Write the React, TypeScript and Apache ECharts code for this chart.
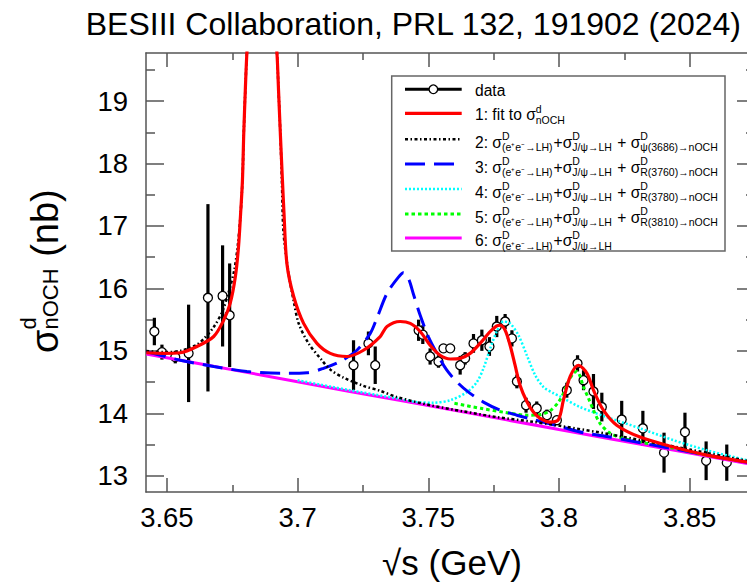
import React, { useEffect, useRef } from "react";
import * as echarts from "echarts";

// ---------- axis ranges & ticks ----------
const X_MIN = 3.642;
const X_MAX = 3.875;
const Y_MIN = 12.74;
const Y_MAX = 19.77;
const xMajorTicks = [3.65, 3.7, 3.75, 3.8, 3.85];
const xMinorTicks = [3.675, 3.725, 3.775, 3.825];
const yMajorTicks = [13, 14, 15, 16, 17, 18, 19];
const yMinorTicks = [13.5, 14.5, 15.5, 16.5, 17.5, 18.5, 19.5];

// ---------- data points ----------
const dataX = [3.6452, 3.6481, 3.6532, 3.6583, 3.6657, 3.6713, 3.674, 3.7214, 3.7271, 3.7297, 3.7463, 3.7479, 3.7507, 3.7539, 3.7558, 3.7584, 3.7622, 3.7641, 3.7673, 3.7705, 3.7734, 3.7762, 3.7794, 3.782, 3.7839, 3.7874, 3.7915, 3.7954, 3.7992, 3.803, 3.8071, 3.8094, 3.8132, 3.8164, 3.824, 3.8321, 3.8402, 3.8482, 3.8563, 3.8642];
const dataY = [15.31, 14.98, 14.9, 14.96, 15.85, 15.88, 15.57, 14.77, 15.12, 14.77, 15.33, 15.26, 14.91, 14.83, 15.04, 15.04, 14.77, 14.88, 15.12, 15.17, 15.07, 15.39, 15.47, 15.2, 14.51, 14.13, 14.08, 13.97, 13.89, 14.37, 14.8, 14.53, 14.35, 14.1, 13.9, 13.76, 13.37, 13.7, 13.24, 13.21];
const dataErr = [0.22, 0.12, 0.1, 0.78, 1.5, 0.81, 0.83, 0.4, 0.19, 0.3, 0.17, 0.15, 0.13, 0.1, 0.06, 0.06, 0.15, 0.1, 0.15, 0.17, 0.15, 0.17, 0.12, 0.13, 0.11, 0.12, 0.11, 0.09, 0.06, 0.12, 0.13, 0.16, 0.28, 0.23, 0.3, 0.28, 0.32, 0.31, 0.31, 0.29];

// ---------- curves ----------
const curveFit: [number, number][] = [[3.6421, 14.97], [3.6487, 14.96], [3.6551, 14.97], [3.6615, 15.07], [3.6679, 15.23], [3.6717, 15.49], [3.6742, 15.76], [3.6762, 16.19], [3.6774, 16.67], [3.6782, 17.2], [3.6789, 17.73], [3.6794, 18.48], [3.68, 19.18], [3.6806, 19.77], [3.686, 23.5], [3.6921, 19.77], [3.6927, 19.18], [3.6934, 18.48], [3.6942, 17.73], [3.6948, 17.2], [3.6959, 16.4], [3.6985, 15.87], [3.7023, 15.44], [3.7074, 15.12], [3.7125, 14.96], [3.7189, 14.91], [3.7252, 15.01], [3.7316, 15.23], [3.7342, 15.39], [3.7392, 15.47], [3.7431, 15.44], [3.7469, 15.31], [3.7507, 15.09], [3.7545, 14.93], [3.7584, 14.87], [3.7622, 14.88], [3.766, 14.96], [3.7698, 15.12], [3.7737, 15.31], [3.7762, 15.4], [3.7775, 15.41], [3.7794, 15.33], [3.7813, 15.09], [3.7832, 14.77], [3.7851, 14.45], [3.7877, 14.19], [3.7902, 14.02], [3.7928, 13.92], [3.7966, 13.86], [3.7998, 13.9], [3.8017, 14.21], [3.8043, 14.59], [3.8074, 14.77], [3.8107, 14.64], [3.8132, 14.37], [3.817, 14.05], [3.8221, 13.81], [3.831, 13.62], [3.8438, 13.46], [3.8565, 13.33], [3.8718, 13.22], [3.8754, 13.19]];
const curvePsi: [number, number][] = [[3.6421, 15.0], [3.6487, 14.98], [3.6551, 15.0], [3.6615, 15.1], [3.6647, 15.22], [3.6679, 15.38], [3.6711, 15.62], [3.6737, 15.95], [3.6758, 16.3], [3.6772, 16.72], [3.6782, 17.2], [3.6789, 17.73], [3.6794, 18.48], [3.68, 19.18], [3.6806, 19.77], [3.686, 23.5], [3.6921, 19.77], [3.6927, 19.18], [3.6934, 18.48], [3.694, 17.7], [3.6946, 16.9], [3.6965, 16.25], [3.6985, 15.8], [3.7004, 15.44], [3.7042, 15.12], [3.7093, 14.85], [3.7125, 14.7], [3.7176, 14.57], [3.7252, 14.44], [3.7316, 14.36], [3.738, 14.26], [3.7507, 14.13], [3.7635, 14.03], [3.7762, 13.94], [3.789, 13.87], [3.8004, 13.8], [3.82, 13.66], [3.85, 13.42], [3.8754, 13.21]];
const curveR3760: [number, number][] = [[3.6421, 14.99], [3.6551, 14.85], [3.6679, 14.75], [3.6806, 14.67], [3.6934, 14.64], [3.7036, 14.65], [3.7099, 14.72], [3.7163, 14.83], [3.7227, 15.01], [3.7278, 15.28], [3.7303, 15.52], [3.7342, 15.92], [3.7386, 16.18], [3.7405, 16.25], [3.7425, 16.15], [3.7443, 15.91], [3.7469, 15.57], [3.7501, 15.22], [3.7533, 14.96], [3.7571, 14.69], [3.7615, 14.48], [3.766, 14.32], [3.7711, 14.18], [3.7775, 14.05], [3.7839, 13.97], [3.7902, 13.9], [3.8004, 13.79], [3.8093, 13.69], [3.8183, 13.63], [3.84, 13.46], [3.8754, 13.19]];
const curveR3780: [number, number][] = [[3.7, 14.53], [3.72, 14.37], [3.738, 14.24], [3.7456, 14.18], [3.752, 14.17], [3.7584, 14.21], [3.7648, 14.34], [3.7686, 14.5], [3.7711, 14.72], [3.7737, 15.04], [3.7762, 15.31], [3.7788, 15.47], [3.7813, 15.44], [3.7845, 15.25], [3.7877, 14.93], [3.7909, 14.61], [3.7941, 14.42], [3.798, 14.32], [3.8004, 14.27], [3.8081, 14.1], [3.8183, 13.94], [3.831, 13.76], [3.8438, 13.57], [3.8565, 13.41], [3.8718, 13.25], [3.8754, 13.22]];
const curveR3810: [number, number][] = [[3.76, 14.16], [3.77, 14.08], [3.78, 14.01], [3.788, 13.97], [3.793, 13.98], [3.7966, 14.04], [3.7998, 14.18], [3.8017, 14.32], [3.8036, 14.51], [3.8055, 14.64], [3.8068, 14.67], [3.808, 14.6], [3.8093, 14.43], [3.8113, 14.24], [3.8132, 14.05], [3.8157, 13.84], [3.8196, 13.68], [3.8246, 13.6], [3.831, 13.54], [3.8438, 13.44], [3.8565, 13.33], [3.8718, 13.22], [3.8754, 13.19]];
const curveBkg: [number, number][] = [[3.6421, 14.95], [3.68, 14.66], [3.72, 14.35], [3.76, 14.05], [3.8, 13.74], [3.84, 13.44], [3.8754, 13.17]];

// ---------- texts ----------
const titleText = "BESIII Collaboration, PRL 132, 191902 (2024)";
const xTitle = "√s (GeV)";
type Seg = { t: string } | { sup: string; sub: string };
const yTitleSegs: Seg[] = [{ t: "σ" }, { sup: "d", sub: "nOCH" }, { t: " (nb)" }];
const base: Seg[] = [{ sup: "D", sub: "(e⁺e⁻→LH)" }, { t: "+σ" }, { sup: "D", sub: "J/ψ→LH" }];
const legendRows: Seg[][] = [
  [{ t: "data" }],
  [{ t: "1: fit to σ" }, { sup: "d", sub: "nOCH" }],
  [{ t: "2: σ" }, ...base, { t: " + σ" }, { sup: "D", sub: "ψ(3686)→nOCH" }],
  [{ t: "3: σ" }, ...base, { t: " + σ" }, { sup: "D", sub: "R(3760)→nOCH" }],
  [{ t: "4: σ" }, ...base, { t: " + σ" }, { sup: "D", sub: "R(3780)→nOCH" }],
  [{ t: "5: σ" }, ...base, { t: " + σ" }, { sup: "D", sub: "R(3810)→nOCH" }],
  [{ t: "6: σ" }, ...base],
];

const FONT = '"Liberation Sans", Arial, Helvetica, sans-serif';
const AXIS_COLOR = "#555";

let measureCtx: CanvasRenderingContext2D | null = null;
function measure(text: string, size: number): number {
  if (!measureCtx) measureCtx = document.createElement("canvas").getContext("2d");
  measureCtx!.font = `${size}px ${FONT}`;
  return measureCtx!.measureText(text).width;
}

function txt(text: string, x: number, y: number, size: number, align = "left") {
  return {
    type: "text",
    x,
    y,
    style: {
      text,
      fontSize: size,
      fontFamily: FONT,
      fill: "#000",
      align,
      verticalAlign: "middle",
      textAlign: align,
      textVerticalAlign: "middle",
    },
  };
}

function layout(segs: Seg[], main: number, script: number, supDy: number, subDy: number) {
  let x = 0;
  const children: any[] = [];
  for (const sg of segs) {
    if ("t" in sg) {
      children.push(txt(sg.t, x, 0, main));
      x += measure(sg.t, main);
    } else {
      children.push(txt(sg.sup, x, supDy, script));
      children.push(txt(sg.sub, x, subDy, script));
      x += Math.max(measure(sg.sup, script), measure(sg.sub, script)) + 1;
    }
  }
  return children;
}

const legendStyles = [
  { color: "#000", width: 3, dash: "solid" as any },
  { color: "#ff0000", width: 3.2, dash: "solid" as any },
  { color: "#000", width: 2.5, dash: [3, 2.5, 1.5, 2.5] },
  { color: "#0000ff", width: 3, dash: [20, 9] },
  { color: "#00ffff", width: 2.5, dash: [2, 2] },
  { color: "#00ff00", width: 3, dash: [3.5, 3] },
  { color: "#ff00ff", width: 3, dash: "solid" as any },
];

function axisCommon(extra: any) {
  return {
    type: "value",
    splitLine: { show: false },
    axisLine: { show: false, lineStyle: { color: AXIS_COLOR, width: 1.5 } },
    axisLabel: { show: false },
    axisTick: { show: false },
    ...extra,
  };
}

export default function App() {
  const ref = useRef<HTMLDivElement>(null);
  useEffect(() => {
    if (!ref.current) return;
    const chart = echarts.init(ref.current, undefined, { renderer: "svg" });

    const xAx = (pos: string, ticks: number[], len: number, line: boolean, labels: boolean) =>
      axisCommon({
        position: pos,
        min: X_MIN,
        max: X_MAX,
        axisLine: { show: line, onZero: false, lineStyle: { color: AXIS_COLOR, width: 1.5 } },
        axisTick: { show: true, inside: true, length: len, customValues: ticks, lineStyle: { color: AXIS_COLOR, width: 1.5 } },
        axisLabel: labels
          ? { show: true, customValues: ticks, fontSize: 27.5, fontFamily: FONT, color: "#000", margin: 11, formatter: (v: number) => String(v) }
          : { show: false },
      });
    const yAx = (pos: string, ticks: number[], len: number, line: boolean, labels: boolean) =>
      axisCommon({
        position: pos,
        min: Y_MIN,
        max: Y_MAX,
        axisLine: { show: line, onZero: false, lineStyle: { color: AXIS_COLOR, width: 1.5 } },
        axisTick: { show: true, inside: true, length: len, customValues: ticks, lineStyle: { color: AXIS_COLOR, width: 1.5 } },
        axisLabel: labels
          ? { show: true, customValues: ticks, fontSize: 27.5, fontFamily: FONT, color: "#000", margin: 18, formatter: (v: number) => String(v) }
          : { show: false },
      });

    const lineSeries = (data: [number, number][], color: string, width: number, dash: any) => ({
      type: "line",
      data,
      showSymbol: false,
      symbol: "none",
      smooth: 0.3,
      clip: true,
      silent: true,
      lineStyle: { color, width, type: dash },
    });

    const errData = dataX.map((x, i) => [x, dataY[i] - dataErr[i], dataY[i] + dataErr[i]]);
    const ptData = dataX.map((x, i) => [x, dataY[i]]);

    // legend graphics
    const LX0 = 405, LX1 = 461.7, TX = 475;
    const lineYs = [89.3, 113.3, 139.3, 164, 189, 214, 238];
    const textYs = [90.5, 114.7, 142, 167, 192, 217, 240.5];
    const legendChildren: any[] = [
      {
        type: "rect",
        shape: { x: 391.7, y: 76, width: 333.3, height: 175 },
        style: { fill: "#fff", stroke: "#666", lineWidth: 1.5 },
      },
    ];
    legendRows.forEach((row, i) => {
      const st = legendStyles[i];
      legendChildren.push({
        type: "line",
        shape: { x1: LX0, y1: lineYs[i], x2: LX1, y2: lineYs[i] },
        style: { stroke: st.color, lineWidth: st.width, lineDash: st.dash === "solid" ? null : st.dash },
      });
      if (i === 0) {
        legendChildren.push({
          type: "circle",
          shape: { cx: (LX0 + LX1) / 2, cy: lineYs[0], r: 4.3 },
          style: { fill: "#fff", stroke: "#000", lineWidth: 1.3 },
        });
      }
      legendChildren.push({
        type: "group",
        x: TX,
        y: textYs[i],
        children: layout(row, 15.6, 10.5, -5.8, 5.2),
      });
    });

    const graphic: any[] = [
      txt(titleText, 741, 24, 32, "right"),
      txt(xTitle, 452, 562, 35, "center"),
      {
        type: "group",
        x: 45,
        y: 353,
        rotation: Math.PI / 2,
        children: layout(yTitleSegs, 38, 22, -17, 5),
      },
      { type: "group", children: legendChildren },
    ];

    chart.setOption({
      animation: false,
      grid: { left: 146, right: -8, top: 53, bottom: 92, containLabel: false, outerBoundsMode: "none" },
      xAxis: [
        xAx("bottom", xMajorTicks, 14, true, true),
        xAx("bottom", xMinorTicks, 7, false, false),
        xAx("top", xMajorTicks, 14, true, false),
        xAx("top", xMinorTicks, 7, false, false),
      ],
      yAxis: [
        yAx("left", yMajorTicks, 18, true, true),
        yAx("left", yMinorTicks, 9, false, false),
        yAx("right", yMajorTicks, 18, true, false),
        yAx("right", yMinorTicks, 9, false, false),
      ],
      series: [
        lineSeries(curveBkg, "#ff00ff", 3, "solid"),
        lineSeries(curveR3780, "#00ffff", 2.5, [2, 2]),
        lineSeries(curveR3810, "#00ff00", 3, [3.5, 3]),
        lineSeries(curveR3760, "#0000ff", 3, [20, 9]),
        lineSeries(curvePsi, "#000000", 2.5, [3, 2.5, 1.5, 2.5]),
        lineSeries(curveFit, "#ff0000", 3.2, "solid"),
        {
          type: "custom",
          data: errData,
          clip: true,
          silent: true,
          renderItem: (params: any, api: any) => {
            const p1 = api.coord([api.value(0), api.value(1)]);
            const p2 = api.coord([api.value(0), api.value(2)]);
            return {
              type: "line",
              shape: { x1: p1[0], y1: p1[1], x2: p2[0], y2: p2[1] },
              style: { stroke: "#000", lineWidth: 3.2 },
            };
          },
        },
        {
          type: "scatter",
          data: ptData,
          symbol: "circle",
          symbolSize: 9,
          silent: true,
          itemStyle: { color: "#fff", borderColor: "#000", borderWidth: 1.3, opacity: 1 },
        },
      ],
      graphic,
    });
    return () => chart.dispose();
  }, []);
  return <div ref={ref} style={{ position: "fixed", left: 0, top: 0, width: 747, height: 584, background: "#fff" }} />;
}
